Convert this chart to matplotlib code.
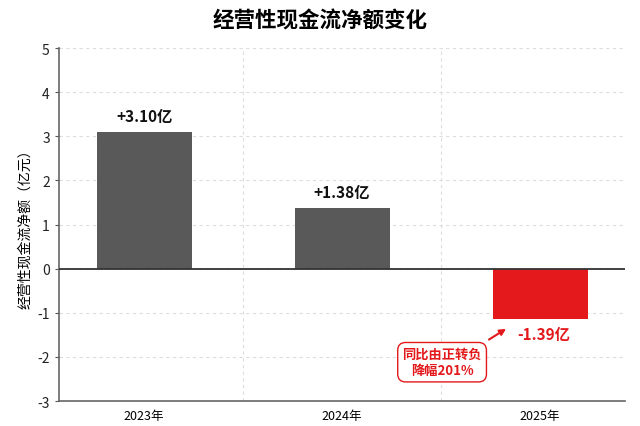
import numpy as np
import matplotlib as mpl
mpl.use('Agg')
import matplotlib.pyplot as plt

plt.rcParams['font.family'] = ['Noto Sans CJK SC', 'DejaVu Sans']
plt.rcParams['axes.unicode_minus'] = False

# data
years = ['2023年', '2024年', '2025年']
heights = [3.10, 1.38, -1.15]          # bar lengths as drawn
labels = ['+3.10亿', '+1.38亿', '-1.39亿']
yticks = [-3, -2, -1, 0, 1, 2, 3, 4, 5]
note = '同比由正转负\n降幅201%'

grey, red = '#595959', '#e3191b'
colors = [grey if h >= 0 else red for h in heights]

fig = plt.figure(figsize=(6.4, 4.27), dpi=100)
ax = fig.add_axes([0.092, 0.0585, 0.885, 0.8265])
x = np.arange(len(years))
ax.bar(x, heights, width=0.48, color=colors, zorder=3)

ax.set_xlim(-0.43, 2.43)
ax.set_ylim(-3, 5)
ax.set_yticks(yticks)
ax.set_xticks(x)
ax.set_xticklabels(years, fontsize=9)
ax.tick_params(axis='y', labelsize=10, length=3, color='#555555', labelcolor='#222222')
ax.tick_params(axis='x', length=0, pad=6)
ax.set_xticks([0.5, 1.5], minor=True)
ax.tick_params(axis='x', which='minor', length=0)
ax.grid(axis='y', ls=(0, (3, 3)), color='#dddddd', lw=0.8, zorder=0)
ax.grid(axis='x', which='minor', ls=(0, (3, 3)), color='#dddddd', lw=0.8, zorder=0)
ax.axhline(0, color='#333333', lw=1.3, zorder=4)
for s in ['top', 'right']:
    ax.spines[s].set_visible(False)
for s in ['left', 'bottom']:
    ax.spines[s].set_color('#666666')
    ax.spines[s].set_linewidth(1.2)

ax.set_ylabel('经营性现金流净额（亿元）', fontsize=10, labelpad=4)
fig.text(0.5, 0.95, '经营性现金流净额变化', ha='center', va='center',
         fontsize=15.5, fontweight='bold')

for i, (h, lab) in enumerate(zip(heights, labels)):
    if h >= 0:
        ax.text(i, h + 0.17, lab, ha='center', va='bottom', fontsize=11,
                fontweight='bold', color='#111111', zorder=5)
    else:
        ax.text(i + 0.02, h - 0.15, lab, ha='center', va='top', fontsize=11,
                fontweight='bold', color=red, zorder=5)

# annotation box with arrow
ax.annotate('', xy=(1.84, -1.33), xytext=(1.73, -1.64),
            arrowprops=dict(arrowstyle='-|>', color=red, lw=1.5,
                            mutation_scale=9), zorder=5)
ax.text(1.505, -2.12, note, ha='center', va='center', fontsize=9.5,
        fontweight='bold', color=red, linespacing=1.2, zorder=6,
        bbox=dict(boxstyle='round,pad=0.35,rounding_size=0.6',
                  fc='white', ec=red, lw=1.0))

fig.savefig('out.png', dpi=100)
